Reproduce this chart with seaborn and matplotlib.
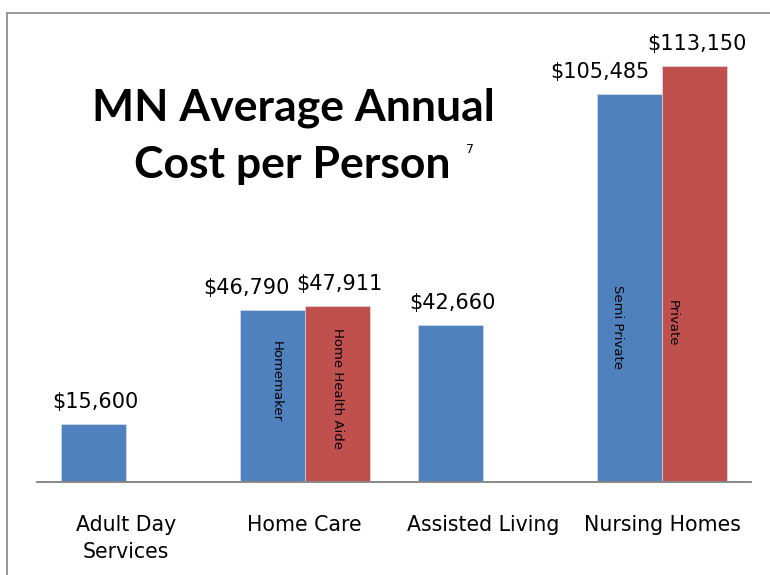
import pandas as pd
import numpy as np
import matplotlib as mpl
mpl.use('Agg')
import matplotlib.pyplot as plt
from matplotlib.patches import Rectangle
import seaborn as sns

# data
categories = ['Adult Day\nServices', 'Home Care', 'Assisted Living', 'Nursing Homes']
series = ['Option 1', 'Option 2']
cost_option1 = [15600, 46790, 42660, 105485]
cost_option2 = [np.nan, 47911, np.nan, 113150]
bar_notes1 = ['', 'Homemaker', '', 'Semi Private']
bar_notes2 = ['', 'Home Health Aide', '', 'Private']

df = pd.DataFrame({
    'category': categories * 2,
    'series': [series[0]] * 4 + [series[1]] * 4,
    'cost': cost_option1 + cost_option2,
}).dropna()

sns.set_style('white')
plt.rcParams['font.family'] = ['DejaVu Sans']
plt.rcParams['text.color'] = 'black'
plt.rcParams['xtick.color'] = 'black'

blue = '#4F81BD'
red = '#C0504D'

fig = plt.figure(figsize=(7.7, 5.75), dpi=100)
ax = fig.add_axes([36.6 / 770, 1 - 481.5 / 575, 714.8 / 770, 440.5 / 575])

sns.barplot(data=df, x='category', y='cost', hue='series', order=categories,
            hue_order=series, palette=[blue, red], saturation=1, width=0.727,
            gap=0, legend=False, errorbar=None, ax=ax,
            edgecolor='#dfe6f0', linewidth=0.4)

ax.set_xlim(-0.5, 3.5)
ax.set_ylim(0, 120000)
for s in ['top', 'left', 'right']:
    ax.spines[s].set_visible(False)
ax.spines['bottom'].set_color('#888888')
ax.spines['bottom'].set_linewidth(1.4)
ax.set_yticks([])
ax.set_xlabel('')
ax.set_ylabel('')
ax.tick_params(axis='x', length=0, pad=24, labelsize=14.8, labelcolor='black')
for lab in ax.get_xticklabels():
    lab.set_linespacing(1.45)

# value labels above bars (two nudged left so they don't collide)
px = 72 / 100
label_dx = {(1, 0): -26, (3, 0): -30}
values = [cost_option1, cost_option2]
for k in range(2):
    bars = iter(ax.containers[k])
    for i, v in enumerate(values[k]):
        if np.isnan(v):
            continue
        bar = next(bars)
        x = bar.get_x() + bar.get_width() / 2
        dx = label_dx.get((i, k), 2) * px
        ax.annotate(f'${v:,.0f}', (x, v), xytext=(dx, 16 * px),
                    textcoords='offset points', ha='center', va='baseline',
                    fontsize=15, color='black')

# notes written vertically inside bars
note_pos = {(1, 0): (4, 0.58), (1, 1): (0, 0.53),
            (3, 0): (-12, 0.40), (3, 1): (-22, 0.38)}
notes = [bar_notes1, bar_notes2]
for k in range(2):
    bars = iter(ax.containers[k])
    for i, v in enumerate(values[k]):
        if np.isnan(v):
            continue
        bar = next(bars)
        if not notes[k][i]:
            continue
        dx, frac = note_pos[(i, k)]
        x = bar.get_x() + bar.get_width() / 2
        ax.annotate(notes[k][i], (x, v * frac), xytext=(dx * px, 0),
                    textcoords='offset points', rotation=-90,
                    ha='center', va='center', fontsize=9.5, color='black')

# title block
fig.text(293 / 770, 1 - 120 / 575, 'MN Average Annual', ha='center', va='baseline',
         fontsize=32, fontweight='bold', family=['Lato', 'DejaVu Sans'], color='black')
fig.text(292 / 770, 1 - 178 / 575, 'Cost per Person', ha='center', va='baseline',
         fontsize=32, fontweight='bold', family=['Lato', 'DejaVu Sans'], color='black')
fig.text(470 / 770, 1 - 153 / 575, '7', ha='center', va='baseline', fontsize=9,
         color='black')

# chart frame
fig.patches.append(Rectangle((7 / 770, -0.2), 1.2, 1.2 - 13 / 575,
                             transform=fig.transFigure, fill=False,
                             edgecolor='#868686', linewidth=1.2))

fig.savefig('out.png', dpi=100)
